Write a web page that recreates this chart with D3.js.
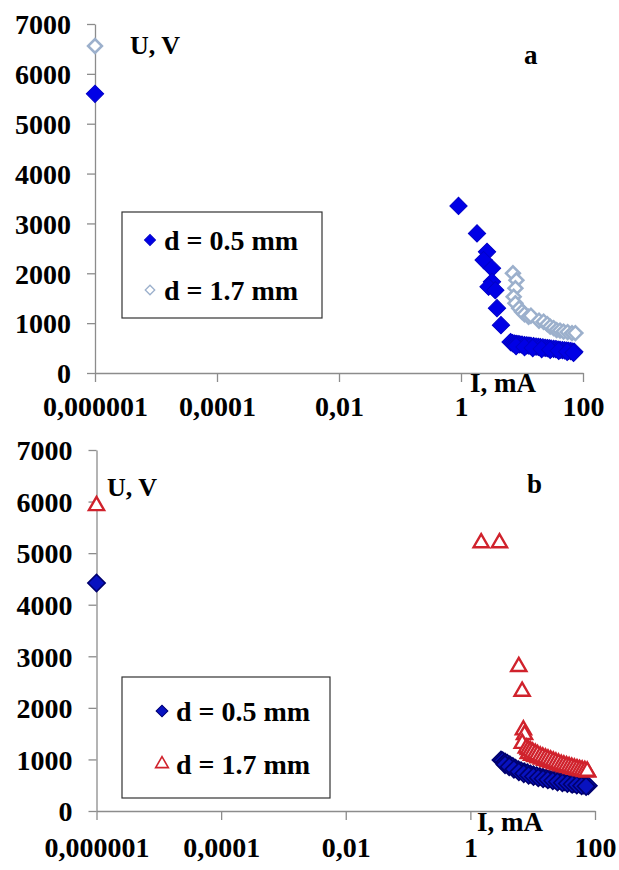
<!DOCTYPE html>
<html>
<head>
<meta charset="utf-8">
<script src="https://cdn.jsdelivr.net/npm/d3@7"></script>
<style>
  body { margin: 0; background: #fff; }
  svg text { font-family: "Liberation Serif", "Times New Roman", serif; font-weight: bold; fill: #000; }
</style>
</head>
<body>
<div id="container"></div>
<script>
// tick values and labels (shared by both panels)
const xTicks = [1e-6, 1e-4, 1e-2, 1, 100];
const xTickLabels = ["0,000001", "0,0001", "0,01", "1", "100"];
const yTicks = [0, 1000, 2000, 3000, 4000, 5000, 6000, 7000];
const seriesNames = ["d = 0.5 mm", "d = 1.7 mm"];

// panel a, d = 0.5 mm  [I (mA), U (V)]
const a05 = [
  [1e-6, 5600],
  [0.91, 3350], [1.83, 2800], [2.67, 2430], [2.35, 2265], [3.22, 2100],
  [3.22, 1830], [2.83, 1730], [3.65, 1660], [3.89, 1300], [4.52, 960],
  [6.5, 620], [7, 600], [7.5, 590], [8, 585], [8.6, 580], [9.2, 575],
  [10, 570], [11, 560], [12, 555], [13, 550], [14, 545], [15.5, 540],
  [17, 530], [18.5, 525], [20, 520], [22, 515], [24, 505], [26, 500],
  [28, 495], [30, 490], [33, 485], [36, 480], [39, 470], [42, 465],
  [46, 460], [50, 455], [54, 450], [58, 445], [63, 440], [68, 430], [72, 425],
  [8, 540], [11, 520], [15, 500], [21, 480], [29, 465], [40, 445], [55, 425], [70, 405]
];
// panel a, d = 1.7 mm
const a17 = [
  [1e-6, 6560],
  [7.1, 2000], [8.1, 1860], [7.8, 1700], [7.3, 1530], [7.8, 1400],
  [9, 1300], [10, 1230], [11, 1180], [12.8, 1130], [14, 1150], [19, 1050],
  [22.6, 1030], [26, 980], [29, 930], [33, 900], [37, 860], [42, 850],
  [48, 830], [56, 820], [66, 800], [75, 800]
];
// panel b, d = 0.5 mm
const b05 = [
  [1e-6, 4420],
  [3.1, 990], [3.3, 975], [3.6, 950], [3.9, 925], [4.3, 895], [4.8, 860],
  [5.3, 830], [5.9, 800], [6.5, 780], [7.3, 760], [8.2, 740], [9.2, 718],
  [10.3, 700], [11.6, 683], [13, 668], [14.6, 655], [16.4, 640], [18.4, 626],
  [20.6, 612], [23, 600], [26, 588], [29, 576], [32.5, 566], [36.5, 556],
  [41, 546], [46, 536], [51.5, 526], [58, 516], [65, 506], [72, 496], [78, 490],
  [3.6, 900], [4.2, 860], [5, 810], [6, 760], [7.2, 725], [8.6, 695],
  [10.3, 670], [12.3, 645], [14.7, 625], [17.5, 605], [21, 585], [25, 565],
  [30, 548], [36, 532], [43, 518], [51, 504], [61, 490], [72, 478]
];
// panel b, d = 1.7 mm
const b17 = [
  [1e-6, 5920],
  [1.49, 5200], [2.93, 5200], [5.98, 2800], [6.77, 2320], [7.1, 1570],
  [7.4, 1480], [6.8, 1310],
  [8.5, 1110], [9.6, 1080], [10.8, 1055], [12.2, 1030], [13.8, 1005],
  [15.6, 980], [17.6, 955], [19.9, 935], [22.5, 915], [25.4, 895],
  [28.7, 875], [32.4, 855], [36.6, 838], [41.4, 822], [46.8, 806],
  [52.9, 792], [59.8, 778], [67.6, 765], [76, 752],
  [7.9, 1220], [8.5, 1190], [9.2, 1165], [10, 1140], [11, 1115], [12, 1090],
  [13.2, 1065], [14.5, 1045], [16, 1025], [17.6, 1005], [19.4, 985],
  [21.4, 965], [23.6, 945], [26, 925], [28.7, 905], [31.6, 890], [34.8, 875],
  [38.4, 860], [42.3, 845], [46.6, 830], [51.4, 815], [56.6, 800],
  [62.4, 790], [68.8, 780], [75, 770]
];

const width = 619, height = 870;
const svg = d3.select("#container").append("svg")
  .attr("width", width).attr("height", height);

const diamond = d3.symbol().type(d3.symbolSquare);
const triangle = d3.symbol().type(d3.symbolTriangle);

function panel(cfg) {
  const x = d3.scaleLog().domain([1e-6, 100]).range([cfg.left, cfg.right]);
  const y = d3.scaleLinear().domain([0, 7000]).range([cfg.bottom, cfg.top]);
  const g = svg.append("g");

  // y axis
  const yAxis = g.append("g")
    .attr("transform", `translate(${cfg.left},0)`)
    .call(d3.axisLeft(y).tickValues(yTicks).tickSize(8).tickSizeOuter(0).tickPadding(16).tickFormat(d3.format("d")));
  // x axis
  const xAxis = g.append("g")
    .attr("transform", `translate(0,${cfg.bottom})`)
    .call(d3.axisBottom(x).tickValues(xTicks).tickSize(9).tickSizeOuter(0).tickPadding(cfg.xPad)
      .tickFormat((d, i) => xTickLabels[i]));
  [yAxis, xAxis].forEach(ax => {
    ax.select(".domain").attr("stroke", "#8c8c8c").attr("stroke-width", 1.3);
    ax.selectAll(".tick line").attr("stroke", "#8c8c8c").attr("stroke-width", 1.3);
  });
  yAxis.selectAll("text").style("font-size", "28px").attr("dy", "0.35em").attr("fill", "#000");
  xAxis.selectAll("text").style("font-size", "28px").attr("fill", "#000");

  // series
  cfg.series.forEach(s => {
    g.append("g").selectAll("path")
      .data(s.data)
      .enter().append("path")
      .attr("d", s.shape.size(s.size)())
      .attr("transform", d => `translate(${x(d[0])},${y(d[1])})` + (s.rotate ? " rotate(45)" : ""))
      .attr("fill", s.fill)
      .attr("stroke", s.stroke)
      .attr("stroke-width", s.sw);
  });

  // texts
  g.append("text").attr("x", cfg.uvx).attr("y", cfg.uvy).style("font-size", "26px").text("U, V");
  g.append("text").attr("x", cfg.labx).attr("y", cfg.laby).style("font-size", "27px").text(cfg.label);
  g.append("text").attr("x", cfg.imx).attr("y", cfg.imy).style("font-size", "27px").text("I, mA");

  // legend
  const lg = g.append("g");
  lg.append("rect")
    .attr("x", cfg.leg[0]).attr("y", cfg.leg[1]).attr("width", cfg.leg[2]).attr("height", cfg.leg[3])
    .attr("fill", "#fff").attr("stroke", "#333").attr("stroke-width", 1.2);
  cfg.series.forEach((s, i) => {
    const ly = cfg.leg[1] + cfg.legRow0 + i * cfg.legStep;
    lg.append("path")
      .attr("d", s.shape.size(s.legSize)())
      .attr("transform", `translate(${cfg.legMarkX},${ly})` + (s.rotate ? " rotate(45)" : ""))
      .attr("fill", s.fill).attr("stroke", s.stroke).attr("stroke-width", s.legSw);
    lg.append("text")
      .attr("x", cfg.legMarkX + 14).attr("y", ly).attr("dy", "0.35em")
      .style("font-size", "28px").text(seriesNames[i]);
  });
}

panel({
  left: 95, right: 583, top: 24, bottom: 373, xPad: 14,
  uvx: 130, uvy: 54, label: "a", labx: 524, laby: 64, imx: 470, imy: 392,
  leg: [122, 212, 200, 106], legRow0: 28, legStep: 50, legMarkX: 150,
  series: [
    { data: a05, shape: diamond, size: 150, rotate: true, fill: "#0000e6", stroke: "#0000c8", sw: 1, legSize: 60, legSw: 1 },
    { data: a17, shape: diamond, size: 95, rotate: true, fill: "#fff", stroke: "#9cb0cc", sw: 2.6, legSize: 45, legSw: 1.3 }
  ]
});

panel({
  left: 96.5, right: 595, top: 450, bottom: 811, xPad: 17,
  uvx: 107, uvy: 496, label: "b", labx: 527, laby: 493, imx: 477, imy: 831,
  leg: [122, 677, 208, 121], legRow0: 34, legStep: 53, legMarkX: 162,
  series: [
    { data: b05, shape: diamond, size: 150, rotate: true, fill: "#0812c0", stroke: "#00006e", sw: 1.6, legSize: 70, legSw: 1 },
    { data: b17, shape: triangle, size: 100, rotate: false, fill: "#fff", stroke: "#d0222c", sw: 2.4, legSize: 70, legSw: 1.6 }
  ]
});
</script>
</body>
</html>
